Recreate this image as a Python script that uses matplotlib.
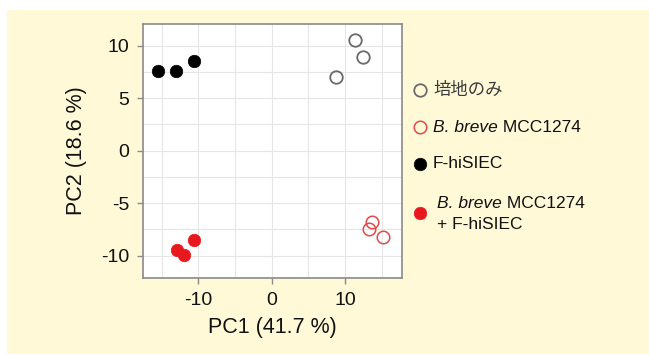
import matplotlib
matplotlib.use("Agg")
import matplotlib.pyplot as plt
from matplotlib.lines import Line2D
from matplotlib.patches import Rectangle
import numpy as np

plt.rcParams['font.family'] = ['Liberation Sans', 'Noto Sans CJK JP']
plt.rcParams['axes.unicode_minus'] = False

# PCA scores per group (PC1, PC2)
medium_pc1 = [11.3, 12.4, 8.8]
medium_pc2 = [10.5, 8.9, 7.05]
breve_pc1 = [13.6, 13.2, 15.2]
breve_pc2 = [-6.8, -7.45, -8.2]
hisiec_pc1 = [-15.5, -13.1, -10.6]
hisiec_pc2 = [7.6, 7.6, 8.5]
combo_pc1 = [-10.6, -12.9, -12.0]
combo_pc2 = [-8.5, -9.45, -9.95]

# legend entries: (italic part, upright part)
group_labels = [
    ("", "培地のみ"),
    ("B. breve", " MCC1274"),
    ("", "F-hiSIEC"),
    ("B. breve", " MCC1274"),
]
combo_second_line = "+ F-hiSIEC"
x_ticks = [-10, 0, 10]
y_ticks = [-10, -5, 0, 5, 10]

GRAY = "#6a6a6a"
RED_OPEN = "#e04a4a"
RED = "#e8191e"
BG = "#fff9d8"

fig = plt.figure(figsize=(6.49, 3.54), dpi=100, facecolor="white")
fig.add_artist(Rectangle((7 / 649, 0), 1 - 7 / 649, (354 - 10) / 354,
                         transform=fig.transFigure, facecolor=BG,
                         edgecolor="none", zorder=-10))

ax = fig.add_axes([143.3 / 649, 76.3 / 354, 258.4 / 649, 253.7 / 354])
ax.set_facecolor("white")

ms = 9
ax.plot(medium_pc1, medium_pc2, 'o', ms=ms, mfc='none', mec=GRAY, mew=1.3, zorder=3)
ax.plot(breve_pc1, breve_pc2, 'o', ms=ms, mfc='none', mec=RED_OPEN, mew=1.1, zorder=3)
ax.plot(hisiec_pc1, hisiec_pc2, 'o', ms=ms, mfc='black', mec='black', mew=0.5, zorder=3)
ax.plot(combo_pc1, combo_pc2, 'o', ms=ms, mfc=RED, mec=RED, mew=0.5, zorder=3)

ax.set_xlim(-17.5, 17.7)
ax.set_ylim(-12.1, 12.07)
ax.set_xticks(x_ticks)
ax.set_yticks(y_ticks)
ax.set_xticks(np.arange(-15, 16, 5), minor=True)
ax.set_yticks(np.arange(-10, 11, 2.5), minor=True)
ax.grid(True, which='both', color="#e6e6e6", lw=0.8, zorder=0)
ax.set_axisbelow(True)
ax.tick_params(which='minor', length=0)
ax.tick_params(which='major', length=4, width=1, color="#8a8a8a",
               labelsize=14, labelcolor="#111111", pad=6)
for sp in ax.spines.values():
    sp.set_color("#8a8a8a")
    sp.set_linewidth(1.2)

ax.set_xlabel("PC1 (41.7 %)", fontsize=15.5, color="#111111", labelpad=6)
ax.set_ylabel("PC2 (18.6 %)", fontsize=15.5, color="#111111", labelpad=10)

# legend drawn in figure pixel coordinates
H = 354.0
W = 649.0
LFS = 12.5
rows = [
    dict(y=90, marker=dict(mfc='none', mec=GRAY, mew=1.3), tx=433, ty=90, color="#3a3a3a"),
    dict(y=127, marker=dict(mfc='none', mec=RED_OPEN, mew=1.1), tx=433, ty=127, color="#111111"),
    dict(y=164, marker=dict(mfc='black', mec='black', mew=0.5), tx=433, ty=164, color="#111111"),
    dict(y=213, marker=dict(mfc=RED, mec=RED, mew=0.5), tx=437, ty=203, color="#111111"),
]
for row, (ital, rest) in zip(rows, group_labels):
    fig.add_artist(Line2D([420 / W], [1 - row['y'] / H], transform=fig.transFigure,
                          marker='o', ms=9, ls='none', **row['marker']))
    x0 = row['tx'] / W
    y0 = 1 - row['ty'] / H
    if ital:
        # italic species name followed by upright strain name on the same baseline
        t1 = fig.text(x0, y0, ital, fontsize=LFS, style='italic',
                      color=row['color'], va='center', ha='left')
        fig.add_artist(matplotlib.text.Annotation(
            rest, xy=(1, 0), xycoords=t1, xytext=(0, 0),
            textcoords='offset points', fontsize=LFS,
            color=row['color'], va='bottom', ha='left',
            annotation_clip=False))
    else:
        fig.text(x0, y0, rest, fontsize=LFS, color=row['color'],
                 va='center', ha='left')

fig.text(437 / W, 1 - 224 / H, combo_second_line, fontsize=LFS,
         color="#111111", va='center', ha='left')

fig.savefig("out.png", dpi=100, facecolor=fig.get_facecolor())
